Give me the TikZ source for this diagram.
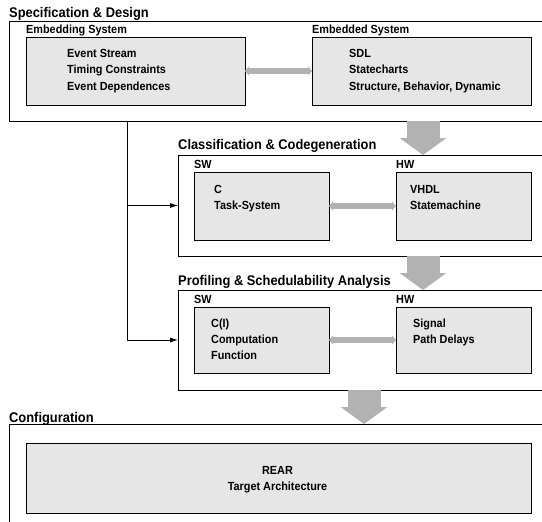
\documentclass[tikz,border=0pt]{standalone}
\usepackage{fontspec}
\setmainfont{Liberation Sans}[FakeStretch=0.92]
\usetikzlibrary{arrows.meta}
\definecolor{boxfill}{RGB}{230,230,230}
\definecolor{arrowgray}{RGB}{178,178,178}
\tikzset{
  framebox/.style={draw=black, line width=0.8pt, anchor=north west, inner sep=0pt, outer sep=0pt},
  graybox/.style={draw=black, fill=boxfill, line width=0.8pt, anchor=north west, inner sep=0pt, outer sep=0pt},
  ttl/.style={anchor=base west, inner sep=0pt, font=\fontsize{14}{16}\selectfont\bfseries},
  lbl/.style={anchor=base west, inner sep=0pt, font=\fontsize{11.8}{14}\selectfont\bfseries},
  txt/.style={anchor=base west, inner sep=0pt, font=\fontsize{11.8}{14}\selectfont\bfseries},
  ctxt/.style={anchor=base, inner sep=0pt, font=\fontsize{11.8}{14}\selectfont\bfseries},
  dblarrow/.style={draw=arrowgray, line width=6pt, {Triangle[width=9pt,length=4pt]}-{Triangle[width=9pt,length=4pt]}},
  bigarrow/.style={draw=arrowgray, line width=33pt, -{Triangle[width=46pt,length=17pt]}},
  feed/.style={draw=black, line width=0.8pt, -{Latex[length=8pt,width=5pt]}},
  trunkline/.style={draw=black, line width=0.8pt}
}
\begin{document}
\begin{tikzpicture}[x=1pt,y=-1pt]
\useasboundingbox (0,0) rectangle (542,522);
\clip (0,0) rectangle (542,522);

% Specification & Design
\node[framebox, minimum width=560pt, minimum height=100pt] (spec) at (9,21) {};
\node[ttl] (specT) at (9,17.3) {Specification \& Design};
\node[lbl] (esL) at (26,34) {Embedding System};
\node[lbl] (emsL) at (312,34) {Embedded System};
\node[graybox, minimum width=219pt, minimum height=68pt] (es) at (26,37) {};
\node[graybox, minimum width=219pt, minimum height=68pt] (ems) at (312,37) {};
\node[txt] (es1) at (67,57.3) {Event Stream};
\node[txt] (es2) at (67,74) {Timing Constraints};
\node[txt] (es3) at (67,90.7) {Event Dependences};
\node[txt] (ems1) at (349,57.3) {SDL};
\node[txt] (ems2) at (349,74) {Statecharts};
\node[txt] (ems3) at (349,90.7) {Structure, Behavior, Dynamic};
\draw[dblarrow] (es.east) -- (ems.west);

% Classification & Codegeneration
\node[framebox, minimum width=400pt, minimum height=101pt] (cls) at (178,155) {};
\node[ttl] (clsT) at (178,149.3) {Classification \& Codegeneration};
\node[lbl] (sw1L) at (194,168.5) {SW};
\node[lbl] (hw1L) at (396,168.5) {HW};
\node[graybox, minimum width=135pt, minimum height=68pt] (sw1) at (194,172) {};
\node[graybox, minimum width=135pt, minimum height=68pt] (hw1) at (396,172) {};
\node[txt] (sw1a) at (214,193.3) {C};
\node[txt] (sw1b) at (214,209) {Task-System};
\node[txt] (hw1a) at (410,193.3) {VHDL};
\node[txt] (hw1b) at (410,209) {Statemachine};
\draw[dblarrow] (sw1.east) -- (hw1.west);

% Profiling & Schedulability Analysis
\node[framebox, minimum width=400pt, minimum height=100pt] (prof) at (178,290) {};
\node[ttl] (profT) at (178,285.7) {Profiling \& Schedulability Analysis};
\node[lbl] (sw2L) at (194,303.3) {SW};
\node[lbl] (hw2L) at (396,303.3) {HW};
\node[graybox, minimum width=135pt, minimum height=66pt] (sw2) at (194,307) {};
\node[graybox, minimum width=135pt, minimum height=66pt] (hw2) at (396,307) {};
\node[txt] (sw2a) at (211,327) {C(I)};
\node[txt] (sw2b) at (211,343.5) {Computation};
\node[txt] (sw2c) at (211,359.5) {Function};
\node[txt] (hw2a) at (413,327) {Signal};
\node[txt] (hw2b) at (413,343.5) {Path Delays};
\draw[dblarrow] (sw2.east) -- (hw2.west);

% Configuration
\node[framebox, minimum width=560pt, minimum height=130pt] (cfg) at (9,424) {};
\node[ttl] (cfgT) at (9,422) {Configuration};
\node[graybox, minimum width=505pt, minimum height=70pt] (rear) at (26,443) {};
\node[ctxt] (rear1) at (277.5,474.8) {REAR};
\node[ctxt] (rear2) at (277.5,490.7) {Target Architecture};

% big arrows between stages
\coordinate (a1) at (423,0);
\coordinate (a3) at (364,0);
\draw[bigarrow] (spec.south -| a1) -- (cls.north -| a1);
\draw[bigarrow] (cls.south -| a1) -- (prof.north -| a1);
\draw[bigarrow] (prof.south -| a3) -- (cfg.north -| a3);

% feedback trunk from specification
\coordinate (trunk) at (127,0);
\draw[trunkline] (spec.south -| trunk) -- (prof.west -| trunk);
\draw[feed] (cls.west -| trunk) -- (cls.west);
\draw[feed] (prof.west -| trunk) -- (prof.west);
\end{tikzpicture}
\end{document}
